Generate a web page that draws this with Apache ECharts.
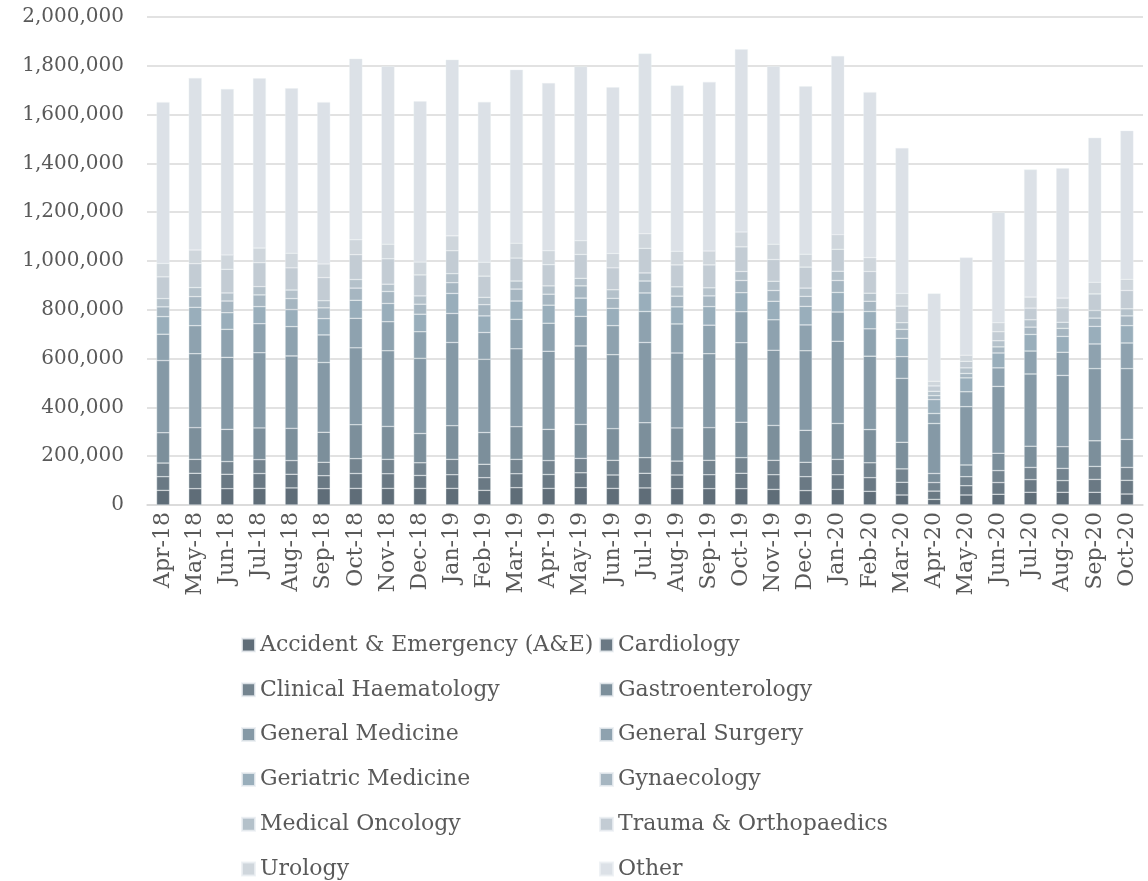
<!DOCTYPE html>
<html>
<head>
<meta charset="utf-8">
<script src="https://cdn.jsdelivr.net/npm/echarts@6/dist/echarts.min.js"></script>
<style>
html,body{margin:0;padding:0;background:#fff;}
#chart{width:1148px;height:881px;}
</style>
</head>
<body>
<div id="chart"></div>
<script>
const months = ["Apr-18","May-18","Jun-18","Jul-18","Aug-18","Sep-18","Oct-18","Nov-18","Dec-18","Jan-19","Feb-19","Mar-19","Apr-19","May-19","Jun-19","Jul-19","Aug-19","Sep-19","Oct-19","Nov-19","Dec-19","Jan-20","Feb-20","Mar-20","Apr-20","May-20","Jun-20","Jul-20","Aug-20","Sep-20","Oct-20"];

const accidentEmergency = [60000,67000,67000,68000,70000,67000,68000,68000,68000,68000,60000,71000,68000,71000,68000,70000,67000,67000,67000,64000,59000,64000,56000,41000,23000,41000,44000,52000,52000,52000,45000];
const cardiology = [56000,63000,59000,61000,56000,53000,61000,60000,53000,56000,52000,57000,57000,61000,55000,60000,56000,57000,63000,60000,57000,60000,56000,52000,34000,38000,48000,52000,48000,53000,56000];
const clinicalHaematology = [56000,57000,52000,57000,56000,55000,61000,59000,52000,63000,55000,59000,57000,59000,60000,64000,57000,59000,64000,59000,59000,63000,61000,55000,35000,37000,49000,50000,50000,53000,53000];
const gastroenterology = [124000,130000,132000,130000,132000,123000,139000,135000,120000,138000,130000,134000,128000,139000,130000,143000,136000,134000,145000,143000,131000,147000,136000,109000,37000,48000,71000,87000,89000,105000,115000];
const generalMedicine = [296000,303000,295000,308000,297000,286000,315000,310000,308000,341000,300000,319000,320000,322000,303000,329000,307000,303000,326000,308000,326000,337000,301000,262000,205000,239000,274000,296000,292000,296000,290000];
const generalSurgery = [108000,115000,115000,119000,120000,113000,121000,119000,109000,119000,110000,121000,115000,121000,119000,127000,119000,117000,127000,125000,106000,120000,112000,89000,41000,61000,76000,94000,95000,101000,105000];
const geriatricMedicine = [72000,75000,68000,70000,70000,67000,74000,75000,72000,82000,68000,75000,74000,75000,71000,76000,70000,76000,78000,76000,76000,80000,71000,75000,57000,57000,61000,68000,65000,72000,71000];
const gynaecology = [40000,44000,48000,48000,45000,44000,50000,49000,41000,44000,46000,49000,45000,50000,41000,49000,44000,44000,50000,44000,41000,49000,42000,37000,16000,18000,25000,30000,33000,34000,40000];
const medicalOncology = [34000,37000,33000,34000,35000,29000,35000,30000,34000,37000,30000,33000,34000,31000,35000,33000,38000,33000,37000,38000,34000,38000,33000,27000,18000,23000,25000,30000,25000,31000,29000];
const traumaOrthopaedics = [89000,98000,97000,98000,91000,95000,102000,104000,86000,94000,87000,94000,87000,98000,90000,101000,90000,94000,101000,89000,86000,90000,89000,68000,22000,27000,37000,48000,59000,68000,75000];
const urology = [55000,56000,59000,60000,60000,56000,61000,60000,53000,61000,57000,61000,57000,56000,59000,60000,56000,57000,61000,63000,53000,60000,57000,52000,19000,25000,37000,45000,40000,48000,46000];
const other = [661000,705000,680000,696000,676000,663000,742000,729000,659000,722000,657000,711000,687000,714000,681000,738000,679000,693000,749000,729000,688000,732000,678000,596000,360000,400000,452000,523000,532000,592000,609000];

const seriesNames = ["Accident & Emergency (A&E)","Cardiology","Clinical Haematology","Gastroenterology","General Medicine","General Surgery","Geriatric Medicine","Gynaecology","Medical Oncology","Trauma & Orthopaedics","Urology","Other"];
const seriesData = [accidentEmergency,cardiology,clinicalHaematology,gastroenterology,generalMedicine,generalSurgery,geriatricMedicine,gynaecology,medicalOncology,traumaOrthopaedics,urology,other];
const colors = ["#5f6d78","#6a7984","#74848f","#7c8f9b","#8599a6","#8ea2af","#99aebb","#a6b6c1","#b4c1ca","#c3ccd4","#cfd6dc","#dce1e7"];

const yTicks = [0,200000,400000,600000,800000,1000000,1200000,1400000,1600000,1800000,2000000];

const FONT = "DejaVu Serif";
const TXT = "#595959";

const chart = echarts.init(document.getElementById('chart'), null, {renderer:'canvas'});

const leftCol = [0,2,4,6,8,10].map(i => seriesNames[i]);
const rightCol = [1,3,5,7,9,11].map(i => seriesNames[i]);

const legendBase = {
  orient: 'vertical',
  top: 634,
  itemWidth: 13,
  itemHeight: 13,
  itemGap: 22.8,
  itemTextGap: 4,
  icon: 'rect',
  selectedMode: false,
  textStyle: {fontFamily: FONT, fontSize: 22, color: TXT, lineHeight: 22},
  padding: 0
};

chart.setOption({
  animation: false,
  color: colors,
  grid: {left: 147, right: 5, top: 17, bottom: 376, containLabel: false},
  legend: [
    Object.assign({}, legendBase, {left: 241, data: leftCol}),
    Object.assign({}, legendBase, {left: 599, data: rightCol})
  ],
  xAxis: {
    type: 'category',
    data: months,
    axisLine: {lineStyle: {color: '#d9d9d9', width: 1.5}},
    axisTick: {show: false},
    axisLabel: {rotate: 90, fontFamily: FONT, fontSize: 22, color: TXT, margin: 7, interval: 0}
  },
  yAxis: {
    type: 'value',
    min: yTicks[0],
    max: yTicks[yTicks.length-1],
    interval: 200000,
    axisLine: {show: false},
    axisTick: {show: false},
    splitLine: {lineStyle: {color: '#d9d9d9', width: 1.5}},
    axisLabel: {
      fontFamily: FONT, fontSize: 20, color: TXT, margin: 23,
      formatter: v => v.toLocaleString('en-US')
    }
  },
  series: seriesNames.map((name, i) => ({
    name: name,
    type: 'bar',
    stack: 'total',
    barWidth: 13,
    data: seriesData[i],
    itemStyle: {color: colors[i], borderColor: 'rgba(235,239,242,0.8)', borderWidth: 0.5}
  }))
});
</script>
</body>
</html>
